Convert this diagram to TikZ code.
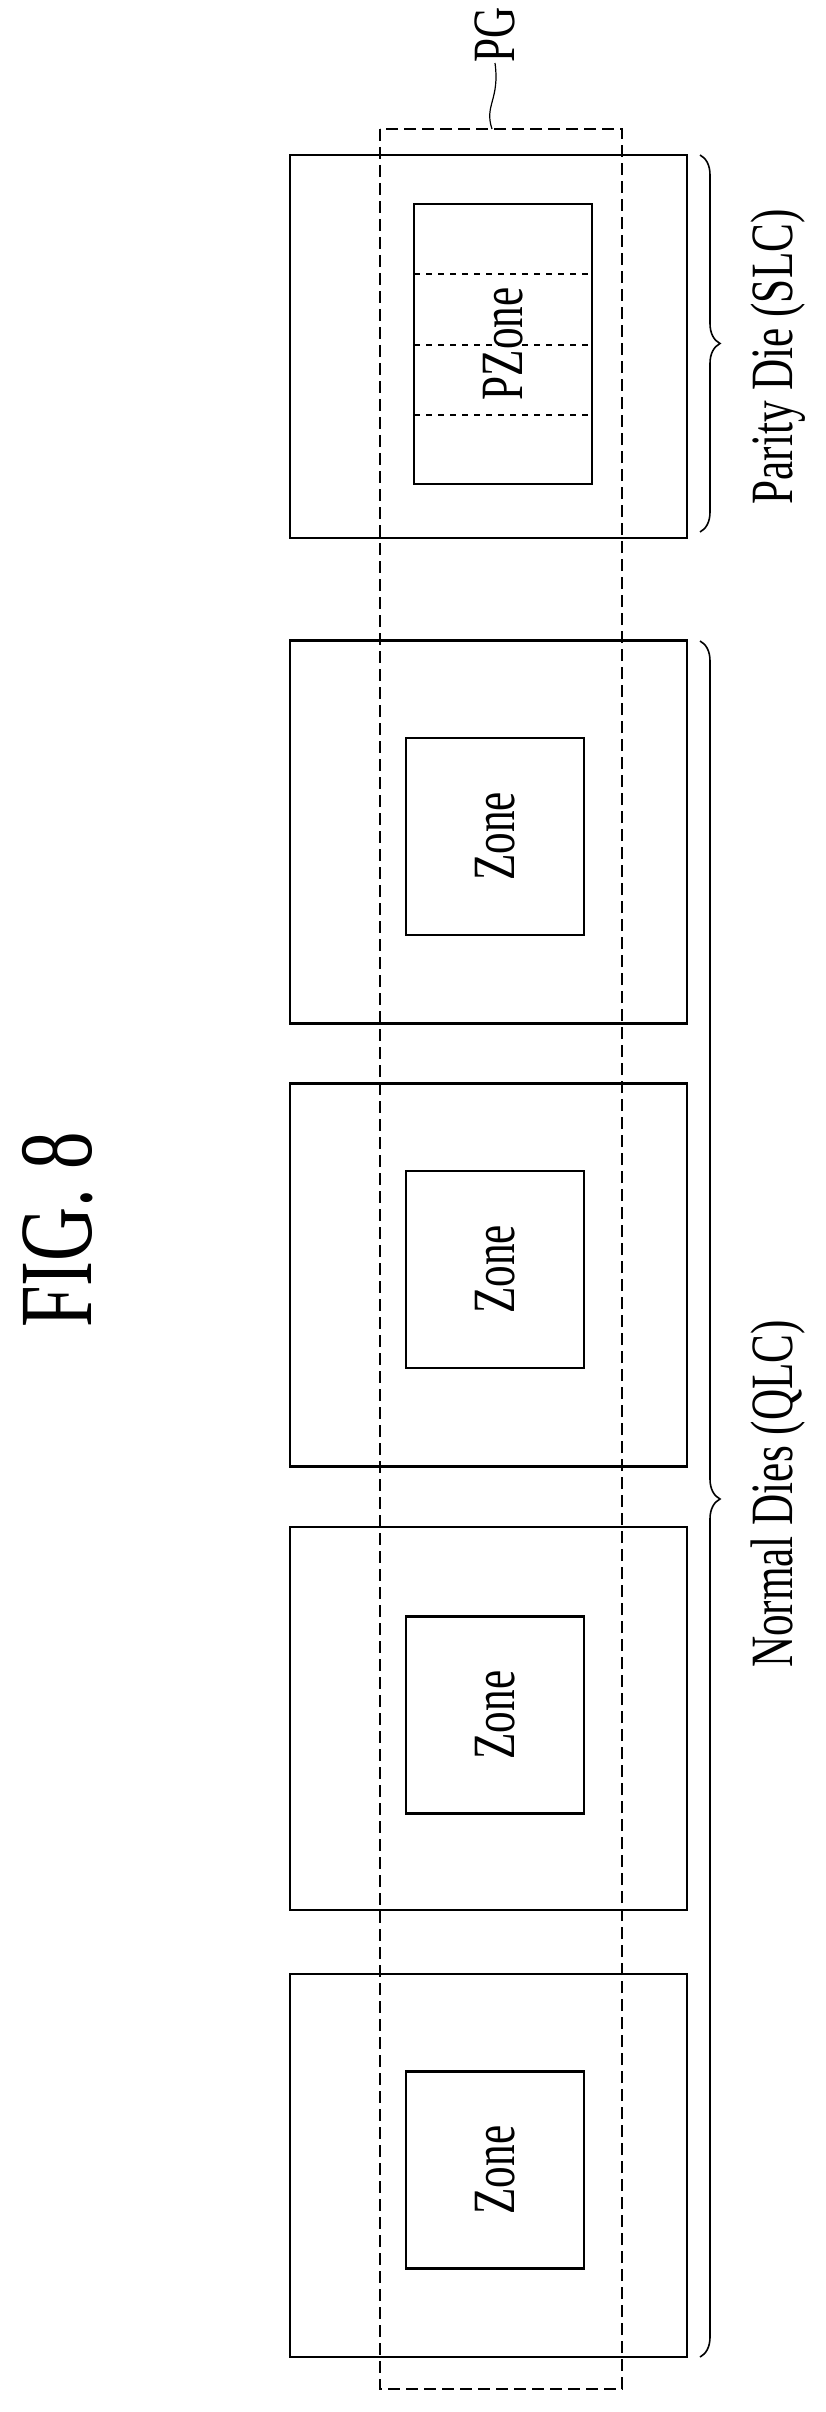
\documentclass[tikz,border=0pt]{standalone}
\usepackage{fontspec}
\setmainfont{Liberation Serif}
\usetikzlibrary{decorations.pathreplacing,positioning}
\tikzset{die/.style={draw, line width=1.2pt, minimum width=198.5pt, minimum height=191.5pt, inner sep=0pt},
zonebox/.style={draw, line width=1.2pt, minimum width=89pt, minimum height=98.5pt, inner sep=0pt, font=\fontsize{30}{30}\selectfont},
lbl/.style={rotate=90, inner sep=0pt, font=\fontsize{30}{30}\selectfont},
pgline/.style={dashed, dash pattern=on 6pt off 3pt, line width=0.7pt},
brc/.style={decorate, decoration={brace, amplitude=10pt}, line width=0.8pt}}
\newcommand{\narrow}[1]{\scalebox{0.72}[1]{#1}}
\begin{document}
\begin{tikzpicture}[x=0.5pt,y=-0.5pt]
\useasboundingbox (0,0) rectangle (825,2412);
%title
\node[lbl, font=\fontsize{52}{52}\selectfont] (fig) at (58,1230) {\narrow{FIG. 8}};
%parity die
\node[die] (d5) at (488.5,346.5) {};
\node[draw, line width=1.2pt, minimum width=89pt, minimum height=140pt, inner sep=0pt] (pz) at (503,344) {};
\draw[dashed, line width=0.6pt] (414,274) -- (592,274);
\draw[dashed, line width=0.6pt] (414,345) -- (592,345);
\draw[dashed, line width=0.6pt] (414,415) -- (592,415);
\node[lbl] at (pz) {\narrow{PZone}};
%normal dies
\node[die] (d4) at (488.5,832) {};
\node[zonebox] (z4) at (495,836.5) {\rotatebox{90}{\narrow{Zone}}};
\node[die] (d3) at (488.5,1275) {};
\node[zonebox] (z3) at (495,1269.5) {\rotatebox{90}{\narrow{Zone}}};
\node[die] (d2) at (488.5,1718.5) {};
\node[zonebox] (z2) at (495,1715) {\rotatebox{90}{\narrow{Zone}}};
\node[die] (d1) at (488.5,2165.5) {};
\node[zonebox] (z1) at (495,2170) {\rotatebox{90}{\narrow{Zone}}};
%parity group
\draw[pgline] (380,129) rectangle (622,2389);
\coordinate (pgtop) at (492,129);
\node[lbl] (pg) at (495,35) {\narrow{PG}};
\draw[line width=0.6pt] (pgtop) .. controls (484,105) and (500,100) .. (pg.west);
%braces
\draw[brc] (700,155) -- (700,532);
\node[lbl] (par) at (778,357) {\narrow{Parity Die (SLC)}};
\draw[brc] (700,641) -- (700,2357);
\node[lbl] (nor) at (778,1494) {\narrow{Normal Dies (QLC)}};
\end{tikzpicture}
\end{document}
